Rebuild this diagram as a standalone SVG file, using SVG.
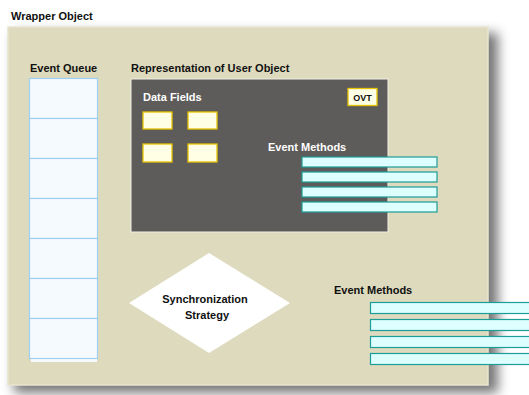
<svg xmlns="http://www.w3.org/2000/svg" width="529" height="395" viewBox="0 0 529 395">
<defs>
<filter id="sh" x="-10%" y="-10%" width="130%" height="130%"><feGaussianBlur stdDeviation="6"/></filter>
</defs>
<style>
text{font-family:"Liberation Sans",Arial,sans-serif;font-weight:bold}
.lbl{font-size:11px;fill:#111}
.wl{font-size:11px;fill:#fff}
.q{fill:#F5FAFF;stroke:#9FD0F0;stroke-width:1.2}
.df{fill:#FFFFE6;stroke:#E6C300;stroke-width:1.3}
.em{fill:#DDFFFF;stroke:#1E9C98;stroke-width:1.2}
</style>
<rect width="529" height="395" fill="#fff"/>
<g id="wrapper">
<rect x="14" y="33" width="484" height="360" fill="#555" opacity="0.8" filter="url(#sh)"/>
<rect x="8" y="27" width="480" height="358" fill="#DDDABD" stroke="#E8E5D0" stroke-width="1.5"/>
<text class="lbl" x="11" y="20">Wrapper Object</text>
</g>
<g id="event-queue">
<text class="lbl" x="30" y="72">Event Queue</text>
<rect x="31" y="358" width="66" height="4" fill="#F5FAFF"/>
<rect class="q" x="29.5" y="78.5" width="68" height="40"/>
<rect class="q" x="29.5" y="118.5" width="68" height="40"/>
<rect class="q" x="29.5" y="158.5" width="68" height="40"/>
<rect class="q" x="29.5" y="198.5" width="68" height="40"/>
<rect class="q" x="29.5" y="238.5" width="68" height="40"/>
<rect class="q" x="29.5" y="278.5" width="68" height="40"/>
<rect class="q" x="29.5" y="318.5" width="68" height="40"/>
</g>
<g id="user-object">
<text class="lbl" x="131" y="72">Representation of User Object</text>
<rect x="131" y="79" width="257" height="153" fill="#5E5C5A" stroke="#F2F0E4" stroke-width="1"/>
<text class="wl" x="143" y="101">Data Fields</text>
<rect class="df" x="143" y="112" width="29" height="17"/>
<rect class="df" x="188" y="112" width="29" height="17"/>
<rect class="df" x="143" y="144" width="29" height="18"/>
<rect class="df" x="188" y="144" width="29" height="18"/>
<g id="ovt">
<rect x="348" y="88.5" width="29" height="17" fill="#FFFFE6" stroke="#E6C300" stroke-width="1.3"/>
<text x="362.5" y="100.5" font-size="9px" fill="#111" text-anchor="middle">OVT</text>
</g>
<text class="wl" x="268" y="151">Event Methods</text>
<rect class="em" x="302" y="157" width="135" height="10"/>
<rect class="em" x="302" y="172" width="135" height="10"/>
<rect class="em" x="302" y="187" width="135" height="10"/>
<rect class="em" x="302" y="202" width="135" height="10"/>
</g>
<g id="sync-strategy">
<polygon points="209,253 290,303 209,353 129,303" fill="#fff"/>
<text class="lbl" x="205" y="303" text-anchor="middle">Synchronization</text>
<text class="lbl" x="207" y="319" text-anchor="middle">Strategy</text>
</g>
<g id="event-methods">
<text class="lbl" x="334" y="294">Event Methods</text>
<rect class="em" x="370.5" y="302.5" width="170" height="11"/>
<rect class="em" x="370.5" y="319.5" width="170" height="11"/>
<rect class="em" x="370.5" y="336.5" width="170" height="11"/>
<rect class="em" x="370.5" y="353.5" width="170" height="11"/>
</g>
<g id="connectors"></g>
</svg>
